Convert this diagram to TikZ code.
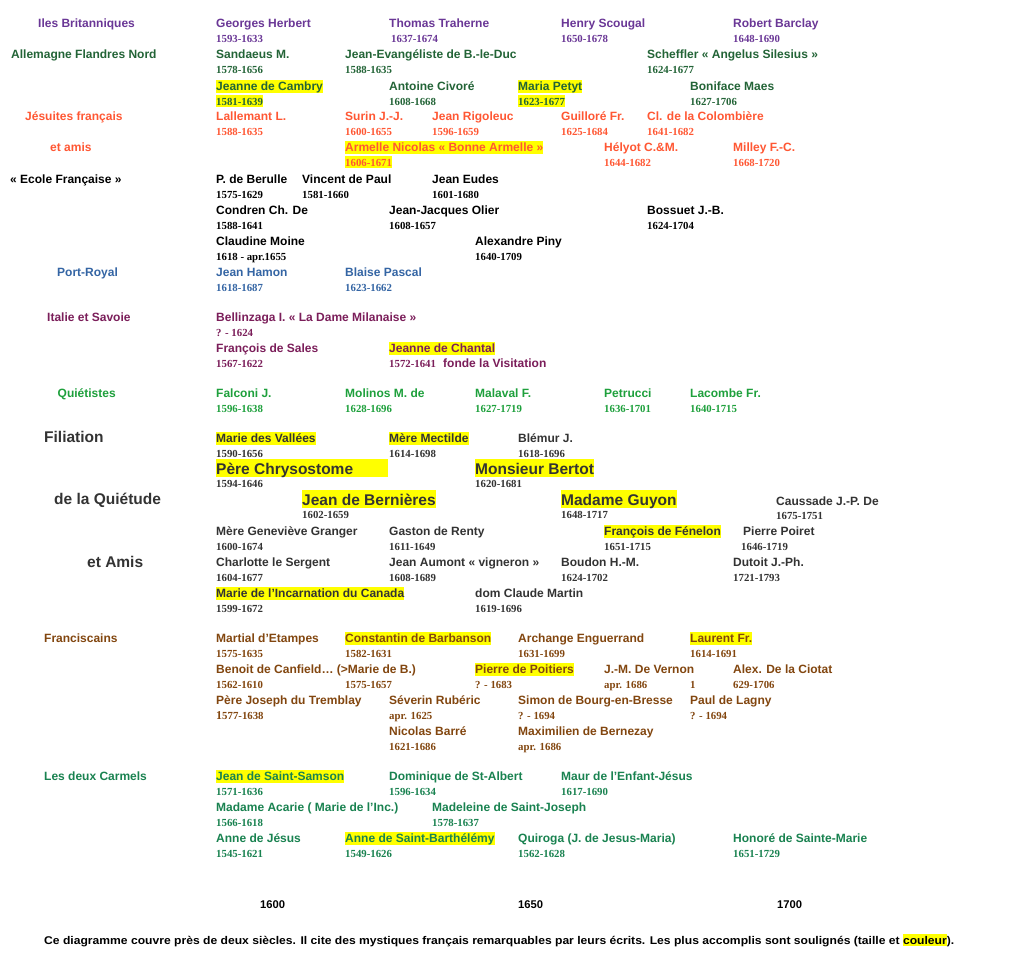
\documentclass[tikz,border=0pt]{standalone}
\usepackage{fontspec}
\usepackage{graphicx}
\setmainfont{Liberation Sans}
\newfontfamily\serifdates{Liberation Serif}
\newcommand\nmf{\fontsize{12}{14}\selectfont\bfseries}
\newcommand\dtf{\serifdates\fontsize{10.8}{12}\selectfont\bfseries}
\newcommand\bgf{\fontsize{15.5}{18}\selectfont\bfseries}
\newcommand\axf{\fontsize{11.2}{13}\selectfont\bfseries}
\definecolor{hly}{RGB}{255,255,0}
\definecolor{brit}{RGB}{106,55,150}
\definecolor{allem}{RGB}{35,100,55}
\definecolor{jes}{RGB}{255,87,51}
\definecolor{port}{RGB}{52,101,164}
\definecolor{ital}{RGB}{123,30,90}
\definecolor{quiet}{RGB}{30,160,60}
\definecolor{fil}{RGB}{51,51,51}
\definecolor{franc}{RGB}{130,70,15}
\definecolor{carm}{RGB}{25,130,80}
\tikzset{
  nm/.style={anchor=base west, inner sep=0pt, font=\nmf},
  dt/.style={anchor=base west, inner sep=0pt, font=\dtf},
  bg/.style={anchor=base west, inner sep=0pt, font=\bgf},
  hl/.style={fill=hly, text height=10.9pt, text depth=2.5pt},
  hld/.style={fill=hly, text height=9.6pt, text depth=2pt},
  hlb/.style={fill=hly, text height=14.8pt, text depth=3.2pt},
  ax/.style={anchor=base west, inner sep=0pt, font=\axf},
}
\newcommand\pp[7]{\node[nm,#4] (#1) at (#2,#3+4.5) {#6};\node[dt,#5] (#1d) at (#2,#3+19) {#7};}
\newcommand\pb[6]{\node[bg,hlb,#4] (#1) at (#2,#3+6) {#5};\node[dt] (#1d) at (#2,#3+19.5) {#6};}
\begin{document}
\begin{tikzpicture}[x=1pt,y=-1pt]
\useasboundingbox (0,0) rectangle (1024,966);
\fill[white] (0,0) rectangle (1024,966);

\begin{scope}[every node/.append style={text=brit}]
\node[nm] (gbrit) at (38,27.5) {Iles Britanniques};
\pp{herbert}{216}{23}{}{}{Georges Herbert}{1593-1633}
\pp{traherne}{389}{23}{}{xshift=2pt}{Thomas Traherne}{1637-1674}
\pp{scougal}{561}{23}{}{}{Henry Scougal}{1650-1678}
\pp{barclay}{733}{23}{}{}{Robert Barclay}{1648-1690}
\end{scope}

\begin{scope}[every node/.append style={text=allem}]
\node[nm] (gallem) at (11,58.5) {Allemagne Flandres Nord};
\pp{sandaeus}{216}{54}{}{}{Sandaeus M.}{1578-1656}
\pp{jeanevang}{345}{54}{}{}{Jean-Evangéliste de B.-le-Duc}{1588-1635}
\pp{scheffler}{647}{54}{}{}{Scheffler « Angelus Silesius »}{1624-1677}
\pp{cambry}{216}{86}{hl}{hld}{Jeanne de Cambry}{1581-1639}
\pp{civore}{389}{86}{}{}{Antoine Civoré}{1608-1668}
\pp{petyt}{518}{86}{hl}{hld}{Maria Petyt}{1623-1677}
\pp{maes}{690}{86}{}{}{Boniface Maes}{1627-1706}
\end{scope}

\begin{scope}[every node/.append style={text=jes}]
\node[nm] (gjes) at (25,120.5) {Jésuites français};
\node[nm] (gjes2) at (50,151.5) {et amis};
\pp{lallemant}{216}{116}{}{}{Lallemant L.}{1588-1635}
\pp{surin}{345}{116}{}{}{Surin J.-J.}{1600-1655}
\pp{rigoleuc}{432}{116}{}{}{Jean Rigoleuc}{1596-1659}
\pp{guillore}{561}{116}{}{}{Guilloré Fr.}{1625-1684}
\pp{colombiere}{647}{116}{}{}{Cl. de la Colombière}{1641-1682}
\pp{armelle}{345}{147}{hl}{hld}{Armelle Nicolas « Bonne Armelle »}{1606-1671}
\pp{helyot}{604}{147}{}{}{Hélyot C.\&M.}{1644-1682}
\pp{milley}{733}{147}{}{}{Milley F.-C.}{1668-1720}
\end{scope}

\begin{scope}[every node/.append style={text=black}]
\node[nm] (gecole) at (10,183.5) {« Ecole Française »};
\pp{berulle}{216}{179}{}{}{P. de Berulle}{1575-1629}
\pp{vincent}{302}{179}{}{}{Vincent de Paul}{1581-1660}
\pp{eudes}{432}{179}{}{}{Jean Eudes}{1601-1680}
\pp{condren}{216}{210}{}{}{Condren Ch. De}{1588-1641}
\pp{olier}{389}{210}{}{}{Jean-Jacques Olier}{1608-1657}
\pp{bossuet}{647}{210}{}{}{Bossuet J.-B.}{1624-1704}
\pp{moine}{216}{241}{}{}{Claudine Moine}{1618 - apr.1655}
\pp{piny}{475}{241}{}{}{Alexandre Piny}{1640-1709}
\end{scope}

\begin{scope}[every node/.append style={text=port}]
\node[nm] (gport) at (57,276.5) {Port-Royal};
\pp{hamon}{216}{272}{}{}{Jean Hamon}{1618-1687}
\pp{pascal}{345}{272}{}{}{Blaise Pascal}{1623-1662}
\end{scope}

\begin{scope}[every node/.append style={text=ital}]
\node[nm] (gital) at (47,321.5) {Italie et Savoie};
\pp{bellinzaga}{216}{317}{}{}{Bellinzaga I. « La Dame Milanaise »}{? - 1624}
\pp{sales}{216}{348}{}{}{François de Sales}{1567-1622}
\pp{chantal}{389}{348}{hl}{}{Jeanne de Chantal}{1572-1641}
\node[nm] (visitation) at (443,367) {fonde la Visitation};
\end{scope}

\begin{scope}[every node/.append style={text=quiet}]
\node[nm] (gquiet) at (57.5,397.5) {Quiétistes};
\pp{falconi}{216}{393}{}{}{Falconi J.}{1596-1638}
\pp{molinos}{345}{393}{}{}{Molinos M. de}{1628-1696}
\pp{malaval}{475}{393}{}{}{Malaval F.}{1627-1719}
\pp{petrucci}{604}{393}{}{}{Petrucci}{1636-1701}
\pp{lacombe}{690}{393}{}{}{Lacombe Fr.}{1640-1715}
\end{scope}

\begin{scope}[every node/.append style={text=fil}]
\node[bg] (gfil1) at (44,442.7) {Filiation};
\node[bg] (gfil2) at (54,504.3) {de la Quiétude};
\node[bg] (gfil3) at (87,567) {et Amis};
\pp{vallees}{216}{438}{hl}{}{Marie des Vallées}{1590-1656}
\pp{mectilde}{389}{438}{hl}{}{Mère Mectilde}{1614-1698}
\pp{blemur}{518}{438}{}{}{Blémur J.}{1618-1696}
\pb{chrysostome}{216}{468}{}{\makebox[172pt][l]{Père Chrysostome}}{1594-1646}
\pb{bertot}{475}{468}{}{Monsieur Bertot}{1620-1681}
\pb{bernieres}{302}{499}{}{Jean de Bernières}{1602-1659}
\pb{guyon}{561}{499}{}{Madame Guyon}{1648-1717}
\pp{caussade}{776}{500.5}{}{}{Caussade J.-P. De}{1675-1751}
\pp{granger}{216}{531}{}{}{Mère Geneviève Granger}{1600-1674}
\pp{renty}{389}{531}{}{}{Gaston de Renty}{1611-1649}
\pp{fenelon}{604}{531}{hl}{}{François de Fénelon}{1651-1715}
\pp{poiret}{743}{531}{}{xshift=-2pt}{Pierre Poiret}{1646-1719}
\pp{sergent}{216}{562}{}{}{Charlotte le Sergent}{1604-1677}
\pp{aumont}{389}{562}{}{}{Jean Aumont « vigneron »}{1608-1689}
\pp{boudon}{561}{562}{}{}{Boudon H.-M.}{1624-1702}
\pp{dutoit}{733}{562}{}{}{Dutoit J.-Ph.}{1721-1793}
\pp{incarnation}{216}{593}{hl}{}{Marie de l’Incarnation du Canada}{1599-1672}
\pp{martin}{475}{593}{}{}{dom Claude Martin}{1619-1696}
\end{scope}

\begin{scope}[every node/.append style={text=franc}]
\node[nm] (gfranc) at (44,642.5) {Franciscains};
\pp{etampes}{216}{638}{}{}{Martial d’Etampes}{1575-1635}
\pp{barbanson}{345}{638}{hl}{}{Constantin de Barbanson}{1582-1631}
\pp{enguerrand}{518}{638}{}{}{Archange Enguerrand}{1631-1699}
\pp{laurent}{690}{638}{hl}{}{Laurent Fr.}{1614-1691}
\pp{canfield}{216}{669}{}{}{Benoit de Canfield… (>Marie de B.)}{1562-1610}
\node[dt] (mariebd) at (345,688) {1575-1657};
\pp{poitiers}{475}{669}{hl}{}{Pierre de Poitiers}{? - 1683}
\pp{vernon}{604}{669}{}{}{J.-M. De Vernon}{apr. 1686}
\node[dt] (vernonx) at (690,688) {1};
\pp{ciotat}{733}{669}{}{}{Alex. De la Ciotat}{629-1706}
\pp{tremblay}{216}{700}{}{}{Père Joseph du Tremblay}{{\nmf 1}577-1638}
\pp{ruberic}{389}{700}{}{}{Séverin Rubéric}{apr. 1625}
\pp{bourg}{518}{700}{}{}{Simon de Bourg-en-Bresse}{? - 1694}
\pp{lagny}{690}{700}{}{}{Paul de Lagny}{? - 1694}
\pp{barre}{389}{731}{}{}{Nicolas Barré}{1621-1686}
\pp{bernezay}{518}{731}{}{}{Maximilien de Bernezay}{apr. 1686}
\end{scope}

\begin{scope}[every node/.append style={text=carm}]
\node[nm] (gcarm) at (44,780.5) {Les deux Carmels};
\pp{samson}{216}{776}{hl}{}{Jean de Saint-Samson}{1571-1636}
\pp{stalbert}{389}{776}{}{}{Dominique de St-Albert}{1596-1634}
\pp{maur}{561}{776}{}{}{Maur de l’Enfant-Jésus}{1617-1690}
\pp{acarie}{216}{807}{}{}{Madame Acarie ( Marie de l’Inc.)}{1566-1618}
\pp{madeleine}{432}{807}{}{}{Madeleine de Saint-Joseph}{1578-1637}
\pp{annejesus}{216}{838}{}{}{Anne de Jésus}{1545-1621}
\pp{annebarth}{345}{838}{hl}{}{Anne de Saint-Barthélémy}{1549-1626}
\pp{quiroga}{518}{838}{}{}{Quiroga (J. de Jesus-Maria)}{1562-1628}
\pp{honore}{733}{838}{}{}{Honoré de Sainte-Marie}{1651-1729}
\end{scope}

\node[ax] (y1600) at (260,908.5) {1600};
\node[ax] (y1650) at (518,908.5) {1650};
\node[ax] (y1700) at (777,908.5) {1700};

\node[anchor=base west, inner sep=0pt] (note) at (44,944) {\resizebox{910pt}{\height}{\axf Ce diagramme couvre près de deux siècles. Il cite des mystiques français remarquables par leurs écrits. Les plus accomplis sont soulignés (taille et {\setlength\fboxsep{0pt}\colorbox{hly}{\rule[-2.3pt]{0pt}{12.5pt}couleur}}).}};
\end{tikzpicture}
\end{document}
